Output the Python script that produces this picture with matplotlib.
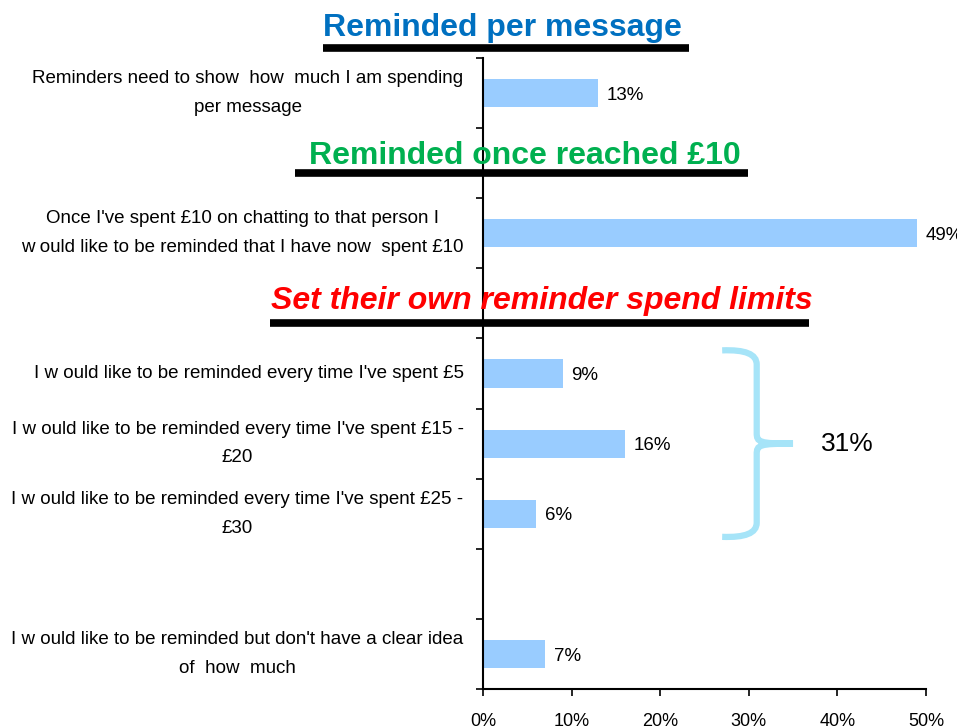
import numpy as np
import matplotlib.pyplot as plt
from matplotlib.path import Path
from matplotlib.patches import PathPatch

plt.rcParams['font.family'] = ['Liberation Sans', 'DejaVu Sans']

# slots from top to bottom, None = empty slot holding a section heading / gap
labels = [
    "Reminders need to show  how  much I am spending\nper message",
    "",
    "Once I've spent £10 on chatting to that person I\nw ould like to be reminded that I have now  spent £10",
    "",
    "I w ould like to be reminded every time I've spent £5",
    "I w ould like to be reminded every time I've spent £15 -\n£20",
    "I w ould like to be reminded every time I've spent £25 -\n£30",
    "",
    "I w ould like to be reminded but don't have a clear idea\nof  how  much",
]
values = [13, None, 49, None, 9, 16, 6, None, 7]

headings = ["Reminded per message", "Reminded once reached £10", "Set their own reminder spend limits"]
heading_colors = ["#0070C0", "#00B050", "#FF0000"]
group_idx = [4, 5, 6]   # bars covered by the brace

fig = plt.figure(figsize=(9.57, 7.28), dpi=100)
ax = fig.add_axes([0.5047, 0.0536, 0.4628, 0.8667])

pos = np.arange(len(labels))
bar_pos = [p for p, v in zip(pos, values) if v is not None]
bar_val = [v for v in values if v is not None]
ax.barh(bar_pos, bar_val, height=0.4, color="#99CCFF")
for p, v in zip(bar_pos, bar_val):
    ax.text(v + 1.0, p + 0.03, f"{v}%", va="center", ha="left", fontsize=13.5)

ax.set_xlim(0, 50)
ax.set_ylim(len(labels) - 0.5, -0.5)
ax.set_xticks(np.arange(0, 51, 10))
ax.set_xticklabels([f"{t}%" for t in range(0, 51, 10)], fontsize=13)
ax.set_yticks(np.arange(-0.5, len(labels), 1.0))
ax.set_yticklabels([])
ax.set_yticks(pos, minor=True)
ax.set_yticklabels(labels, minor=True, fontsize=13.5, multialignment="center", linespacing=1.9)
for lab in ax.get_yticklabels(minor=True):
    lab.set_verticalalignment("center")
ax.tick_params(axis="y", which="minor", length=0, pad=14)
ax.tick_params(axis="y", which="major", length=5, width=1.2)
ax.tick_params(axis="x", length=5, width=1.2, pad=12)
for s in ["top", "right"]:
    ax.spines[s].set_visible(False)
for s in ["left", "bottom"]:
    ax.spines[s].set_linewidth(1.5)

# section headings with black underlines
head_y = [-0.93, 0.895, 2.96]
line_y = [-0.64, 1.14, 3.28]
head_x = [2.15, 4.75, 6.67]
line_x = [(-18.1, 23.2), (-21.2, 29.9), (-24.1, 36.8)]
for i, h in enumerate(headings):
    ax.text(head_x[i], head_y[i], h, color=heading_colors[i], fontsize=23, fontweight="bold",
            style="italic" if i == 2 else "normal", ha="center", va="center", clip_on=False, zorder=5)
    ax.plot(line_x[i], [line_y[i], line_y[i]], color="black", lw=5.5, clip_on=False,
            solid_capstyle="butt", zorder=4)

# brace over the spend-limit group
y0 = group_idx[0] - 0.33
y1 = group_idx[-1] + 0.33
ym = (y0 + y1) / 2
xa, xb, xc = 27.0, 30.9, 35.0
verts = [(xa, y0), (xb, y0 - 0.02), (xb, y0 + 0.2),
         (xb, ym - 0.15),
         (xb, ym - 0.02), (xb + 0.3, ym), (xc, ym),
         (xb + 0.3, ym), (xb, ym + 0.02), (xb, ym + 0.15),
         (xb, y1 - 0.2),
         (xb, y1 + 0.02), (xa, y1)]
codes = [Path.MOVETO, Path.CURVE3, Path.CURVE3,
         Path.LINETO,
         Path.CURVE4, Path.CURVE4, Path.CURVE4,
         Path.CURVE4, Path.CURVE4, Path.CURVE4,
         Path.LINETO,
         Path.CURVE3, Path.CURVE3]
ax.add_patch(PathPatch(Path(verts, codes), facecolor="none", edgecolor="#A6E4F8", lw=4.5,
                       clip_on=False, capstyle="butt"))
ax.text(38.1, ym, f"{sum(values[i] for i in group_idx)}%", fontsize=19, ha="left", va="center")

fig.savefig("out.png", dpi=100)
